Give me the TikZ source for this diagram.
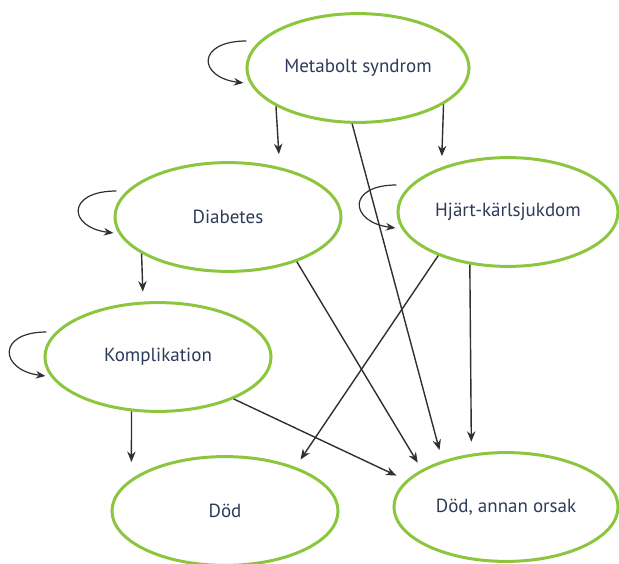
\documentclass[tikz,border=0pt]{standalone}
\usepackage{fontspec}
\setmainfont{PT Sans}
\usetikzlibrary{arrows.meta,shapes.geometric}
\definecolor{stateline}{HTML}{8CC63F}
\definecolor{statetext}{HTML}{2E3A5A}
\definecolor{flowink}{HTML}{303030}

\begin{document}
\begin{tikzpicture}[
  x=0.025cm,
  y=-0.025cm,
  state/.style={draw=stateline, line width=0.75mm, ellipse, inner sep=0pt,
    minimum width=5.55cm, minimum height=2.72cm, text=statetext,
    font=\fontsize{13.5}{16}\selectfont},
  flow/.style={draw=flowink, line width=0.35mm, -{Stealth[length=2.6mm,width=2.1mm]}},
  selfloop/.style={draw=flowink, line width=0.3mm, -{Stealth[length=2.4mm,width=1.9mm]}}
]
  \useasboundingbox (0,0) rectangle (619,564);

  % States of the model.
  \node[state] (ms) at (358,68)  {Metabolt syndrom};
  \node[state, minimum width=5.65cm] (db) at (228,217) {Diabetes};
  \node[state, minimum width=5.5cm] (hk) at (508,212) {Hjärt-kärlsjukdom};
  \node[state, minimum width=5.65cm] (ko) at (158,357) {Komplikation};
  \node[state, minimum width=5.65cm] (dd) at (225,511) {Död};
  \node[state, minimum width=5.6cm] (da) at (506,507) {Död, annan orsak};

  % Remaining in the same state.
  \foreach \n/\sx/\sy/\ex/\ey in {ms/1/-27/-2/15, db/3/-26/0/16,
                                  hk/0/-27/-1/16, ko/3/-25/2/19}
    \draw[selfloop] ([shift={(\sx,\sy)}]\n.west)
      .. controls +(-50,0) and +(-46,-6) .. ([shift={(\ex,\ey)}]\n.west);

  % Transitions between states.
  \draw[flow, shorten >=3.25mm] (ms.205.5) -- (db.44.6);
  \draw[flow, shorten >=2.75mm] (ms.337.4) -- (hk.146.1);
  \draw[flow, shorten >=2.75mm] (ms.264.8) -- (da.144.2);
  \draw[flow, shorten >=2.5mm]  (db.203.1) -- (ko.105.7);
  \draw[flow, shorten >=2mm]    (db.327.7) -- (da.156.6);
  \draw[flow, shorten >=2.25mm] (hk.212)   -- (dd.32.4);
  \draw[flow, shorten >=3mm]    (hk.234.8) -- (da.123);
  \draw[flow, shorten >=4.2mm]  (ko.244.6) -- (dd.161.2);
  \draw[flow, shorten >=2.75mm] (ko.331.1) -- (da.165.4);

\end{tikzpicture}
\end{document}
